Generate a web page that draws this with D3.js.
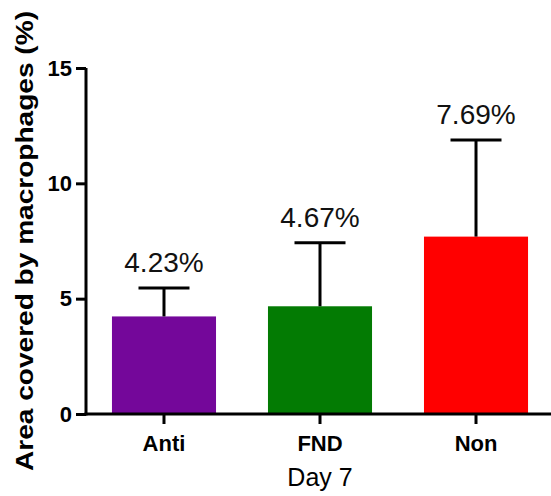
<!DOCTYPE html>
<html>
<head>
<meta charset="utf-8">
<script src="https://cdn.jsdelivr.net/npm/d3@7"></script>
<style>
  html, body { margin: 0; padding: 0; background: #fff; }
  svg { display: block; font-family: "Liberation Sans", Arial, Helvetica, sans-serif; }
</style>
</head>
<body>
<svg id="chart" width="551" height="496"></svg>
<script>
const categories = ["Anti", "FND", "Non"];
const means = [4.23, 4.67, 7.69];
const sds = [1.23, 2.75, 4.19];
const valueLabels = ["4.23%", "4.67%", "7.69%"];
const barColors = ["#74079A", "#037B03", "#FF0000"];
const yTicks = [0, 5, 10, 15];
const yTitle = "Area covered by macrophages (%)";
const xTitle = "Day 7";

const svg = d3.select("#chart");

const y = d3.scaleLinear().domain([0, 15]).range([414, 68]);
const x = d3.scaleBand().domain(categories).range([87, 553])
  .paddingInner(0.333).paddingOuter(0.16);

const data = categories.map((c, i) => ({ c, m: means[i], sd: sds[i], label: valueLabels[i], color: barColors[i] }));

// bars
svg.append("g").selectAll("rect").data(data).join("rect")
  .attr("x", d => x(d.c))
  .attr("width", x.bandwidth())
  .attr("y", d => y(d.m))
  .attr("height", d => y(0) - y(d.m))
  .attr("fill", d => d.color);

// error bars (upper only)
const eb = svg.append("g").attr("stroke", "#000").attr("stroke-width", 3);
eb.selectAll("line.v").data(data).join("line").attr("class", "v")
  .attr("x1", d => x(d.c) + x.bandwidth() / 2)
  .attr("x2", d => x(d.c) + x.bandwidth() / 2)
  .attr("y1", d => y(d.m))
  .attr("y2", d => y(d.m + d.sd));
eb.selectAll("line.h").data(data).join("line").attr("class", "h")
  .attr("x1", d => x(d.c) + x.bandwidth() / 2 - 25.5)
  .attr("x2", d => x(d.c) + x.bandwidth() / 2 + 25.5)
  .attr("y1", d => y(d.m + d.sd))
  .attr("y2", d => y(d.m + d.sd));

// value labels
svg.append("g").selectAll("text").data(data).join("text")
  .attr("x", d => x(d.c) + x.bandwidth() / 2)
  .attr("y", d => y(d.m + d.sd) - 16)
  .attr("text-anchor", "middle")
  .attr("font-size", 28)
  .attr("fill", "#111")
  .text(d => d.label);

// y axis
const yAxis = svg.append("g").attr("transform", "translate(86,0)")
  .call(d3.axisLeft(y).tickValues(yTicks).tickSize(10).tickPadding(4).tickFormat(d3.format("d")));
yAxis.select(".domain").attr("stroke", "#000").attr("stroke-width", 3).attr("d", "M0," + y(15) + "V" + (y(0) + 1.5));
yAxis.selectAll(".tick line").attr("stroke", "#000").attr("stroke-width", 3);
yAxis.selectAll(".tick text").attr("font-size", 22).attr("font-weight", "bold")
  .attr("font-family", "Liberation Sans, Arial, sans-serif").attr("fill", "#000");

// x axis
const xAxis = svg.append("g").attr("transform", "translate(0,414)")
  .call(d3.axisBottom(x).tickSize(10).tickPadding(11));
xAxis.select(".domain").attr("stroke", "#000").attr("stroke-width", 3).attr("d", "M84.5,0H551");
xAxis.selectAll(".tick line").attr("stroke", "#000").attr("stroke-width", 3);
xAxis.selectAll(".tick text").attr("font-size", 22).attr("font-weight", "bold")
  .attr("font-family", "Liberation Sans, Arial, sans-serif").attr("fill", "#000");

// axis titles
svg.append("text")
  .attr("transform", "translate(33,241) rotate(-90)")
  .attr("text-anchor", "middle")
  .attr("font-size", 24)
  .attr("font-weight", "bold")
  .attr("textLength", 460)
  .attr("lengthAdjust", "spacingAndGlyphs")
  .attr("fill", "#000")
  .text(yTitle);

svg.append("text")
  .attr("x", 320)
  .attr("y", 486)
  .attr("text-anchor", "middle")
  .attr("font-size", 25)
  .attr("fill", "#000")
  .text(xTitle);
</script>
</body>
</html>
